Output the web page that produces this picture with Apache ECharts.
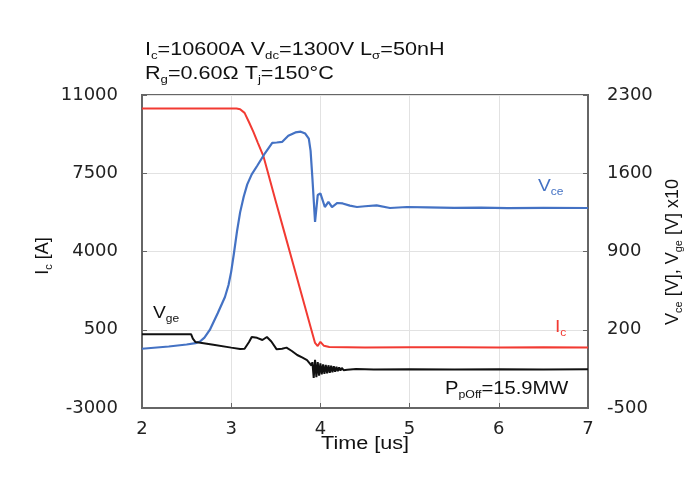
<!DOCTYPE html>
<html><head><meta charset="utf-8">
<script src="https://cdn.jsdelivr.net/npm/echarts@6/dist/echarts.min.js"></script>
<style>html,body{margin:0;padding:0;background:#fff}#c{width:690px;height:486px}</style>
</head><body><div id="c"></div>
<script>
// ---- data (time in us) ----
const icTime = [2.0, 2.5, 3.0, 3.06, 3.1, 3.15, 3.2, 3.25, 3.3, 3.36, 3.4, 3.5, 3.6, 3.7, 3.8, 3.9, 3.94, 3.97, 4.0, 4.04, 4.1, 4.5, 5.0, 5.5, 6.0, 6.5, 7.0];
const icValues = [10400, 10400, 10400, 10395, 10360, 10200, 9780, 9340, 8850, 8280, 7700, 6240, 4800, 3360, 1920, 480, -90, -230, -40, -220, -270, -290, -285, -280, -290, -285, -290];

const vceTime = [2.0, 2.3, 2.5, 2.6, 2.65, 2.7, 2.76, 2.85, 2.93, 2.97, 3.0, 3.03, 3.065, 3.1, 3.14, 3.18, 3.23, 3.29, 3.38, 3.46, 3.51, 3.57, 3.64, 3.72, 3.78, 3.83, 3.87, 3.89, 3.91, 3.94, 3.97, 4.0, 4.02, 4.05, 4.09, 4.13, 4.19, 4.25, 4.33, 4.41, 4.5, 4.63, 4.78, 4.97, 5.2, 5.5, 5.8, 6.1, 6.5, 7.0];
const vceValues = [30, 50, 68, 80, 95, 130, 198, 350, 493, 600, 720, 880, 1080, 1250, 1390, 1500, 1590, 1665, 1781, 1871, 1875, 1880, 1935, 1965, 1972, 1955, 1910, 1800, 1560, 1164, 1405, 1420, 1432, 1298, 1343, 1298, 1334, 1330, 1310, 1298, 1305, 1312, 1289, 1298, 1295, 1290, 1292, 1288, 1290, 1289];

// Vge plotted on right axis as [V] x10
const vgeTime = [2.0, 2.3, 2.55, 2.57, 2.6, 2.8, 3.0, 3.1, 3.15, 3.2, 3.23, 3.29, 3.35, 3.4, 3.45, 3.51, 3.57, 3.62, 3.68, 3.74, 3.8, 3.85, 3.88, 3.9,
  3.91, 3.925, 3.94, 3.955, 3.97, 3.985, 4.0, 4.015, 4.03, 4.045, 4.06, 4.075, 4.09, 4.105, 4.12, 4.135, 4.15, 4.165, 4.18, 4.195, 4.21, 4.225, 4.24, 4.26, 4.28, 4.3, 4.4, 4.6, 5.0, 5.5, 6.0, 6.5, 7.0];
const vgeValues = [160, 160, 160, 120, 90, 65, 40, 28, 30, 90, 135, 128, 108, 135, 95, 25, 30, 40, 10, -26, -50, -71, -100, -120,
  -90, -230, -70, -225, -90, -210, -100, -200, -110, -195, -115, -190, -118, -185, -122, -180, -127, -175, -132, -170, -137, -166, -142, -162, -146, -158, -152, -155, -154, -155, -153, -155, -154, -155];

const xTicks = [2, 3, 4, 5, 6, 7];
const leftTicks = [-3000, 500, 4000, 7500, 11000];
const rightTicks = [-500, 200, 900, 1600, 2300];

const zip = (t, v) => t.map((x, i) => [x, v[i]]);

const SANS = 'Liberation Sans, Arial, sans-serif';
const TICKFONT = 'DejaVu Sans, sans-serif';
const SX = 1.2;

function rich(color, size) {
  return {
    m: { fontSize: size, fontFamily: SANS, fill: color, color: color, lineHeight: size + 4 },
    s: { fontSize: Math.round(size * 0.62), fontFamily: SANS, fill: color, color: color, verticalAlign: 'bottom' }
  };
}
function txt(x, y, text, color, size, extra) {
  return Object.assign({
    type: 'text', x: x, y: y, scaleX: SX, z: 100,
    style: { text: text, rich: rich(color, size), fill: color, verticalAlign: 'top', align: 'left' }
  }, extra || {});
}
const plain = v => String(v);

const chart = echarts.init(document.getElementById('c'), null, { renderer: 'canvas' });
chart.setOption({
  animation: false,
  backgroundColor: '#fff',
  grid: { left: 142, right: 102, top: 95, bottom: 78, show: true, borderColor: '#666', borderWidth: 2, backgroundColor: 'transparent' },
  xAxis: {
    type: 'value', min: xTicks[0], max: xTicks[xTicks.length - 1], interval: 1,
    axisLine: { show: true, onZero: false, lineStyle: { color: '#666', width: 2 } },
    axisTick: { show: true, inside: true, length: 5, lineStyle: { color: '#666' } },
    axisLabel: { fontFamily: TICKFONT, fontSize: 18, color: '#222', margin: 12, formatter: plain },
    splitLine: { show: true, lineStyle: { color: '#e2e2e2', width: 1 } }
  },
  yAxis: [{
    type: 'value', min: leftTicks[0], max: leftTicks[leftTicks.length - 1], interval: 3500,
    axisLine: { show: true, onZero: false, lineStyle: { color: '#666', width: 2 } },
    axisTick: { show: true, inside: true, length: 5, lineStyle: { color: '#666' } },
    axisLabel: { fontFamily: TICKFONT, fontSize: 18, color: '#222', margin: 24, formatter: plain },
    splitLine: { show: true, lineStyle: { color: '#e2e2e2', width: 1 } }
  }, {
    type: 'value', position: 'right', min: rightTicks[0], max: rightTicks[rightTicks.length - 1], interval: 700,
    axisLine: { show: true, onZero: false, lineStyle: { color: '#666', width: 2 } },
    axisTick: { show: true, inside: true, length: 5, lineStyle: { color: '#666' } },
    axisLabel: { fontFamily: TICKFONT, fontSize: 18, color: '#222', margin: 19, formatter: plain },
    splitLine: { show: false }
  }],
  series: [
    { name: 'Ic', type: 'line', yAxisIndex: 0, data: zip(icTime, icValues), showSymbol: false,
      lineStyle: { color: '#f23a32', width: 2 }, z: 3 },
    { name: 'Vce', type: 'line', yAxisIndex: 1, data: zip(vceTime, vceValues), showSymbol: false,
      lineStyle: { color: '#4472c4', width: 2.2 }, z: 4 },
    { name: 'Vge', type: 'line', yAxisIndex: 1, data: zip(vgeTime, vgeValues), showSymbol: false,
      lineStyle: { color: '#111', width: 2 }, z: 5 }
  ],
  graphic: [
    txt(145, 39, '{m|I}{s|c}{m|=10600A V}{s|dc}{m|=1300V L}{s|σ}{m|=50nH}', '#111', 18),
    txt(145, 63, '{m|R}{s|g}{m|=0.60Ω T}{s|j}{m|=150°C}', '#111', 18),
    txt(538, 177, '{m|V}{s|ce}', '#4472c4', 16),
    txt(555, 318, '{m|I}{s|c}', '#f23a32', 16),
    txt(153, 304, '{m|V}{s|ge}', '#111', 16),
    txt(445, 378, '{m|P}{s|pOff}{m|=15.9MW}', '#111', 18, { scaleX: 1.12 }),
    txt(365, 444, '{m|Time [us]}', '#111', 18, { style: { text: '{m|Time [us]}', rich: rich('#111', 18), align: 'center', verticalAlign: 'middle' } }),
    txt(43, 256, '{m|I}{s|c}{m| [A]}', '#111', 18, { rotation: Math.PI / 2, scaleX: 1, style: { text: '{m|I}{s|c}{m| [A]}', rich: rich('#111', 18), align: 'center', verticalAlign: 'middle' } }),
    txt(673, 252, '{m|V}{s|ce}{m| [V], V}{s|ge}{m| [V] x10}', '#111', 18, { rotation: Math.PI / 2, scaleX: 1, style: { text: '{m|V}{s|ce}{m| [V], V}{s|ge}{m| [V] x10}', rich: rich('#111', 18), align: 'center', verticalAlign: 'middle' } })
  ]
});
</script>
</body></html>
